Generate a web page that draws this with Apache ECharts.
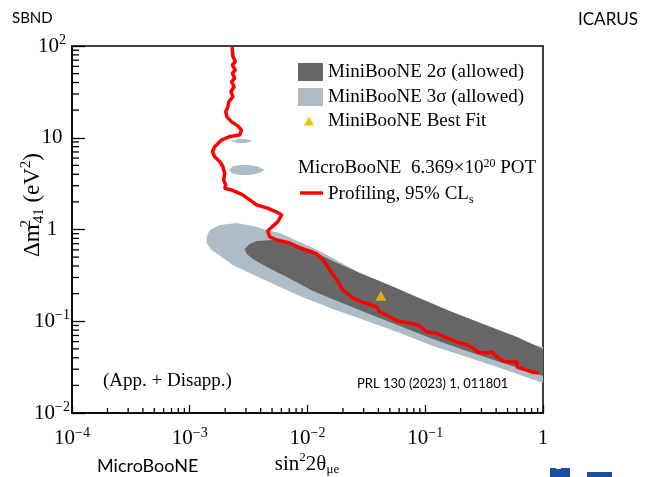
<!DOCTYPE html>
<html><head><meta charset="utf-8">
<script src="https://cdn.jsdelivr.net/npm/echarts@6/dist/echarts.min.js"></script>
<style>html,body{margin:0;padding:0;background:#fff}#c{width:652px;height:477px}</style>
</head><body><div id="c"></div>
<script>
// ---------- data (x = sin^2 2theta_mue, y = dm^2_41 in eV^2) ----------
const xRange = [1e-4, 1];
const yRange = [1e-2, 100];
const xMinorTicks = [];
for (let k = -4; k <= -1; k++) for (let m = 2; m <= 9; m++) xMinorTicks.push(m * Math.pow(10, k));
const yMinorTicks = [];
for (let k = -2; k <= 1; k++) for (let m = 2; m <= 9; m++) yMinorTicks.push(m * Math.pow(10, k));

const miniBooNE3sigma = [
  [1.39e-3,0.829],[1.48e-3,0.988],[1.80e-3,1.12],[2.51e-3,1.177],[3.43e-3,1.092],[4.51e-3,0.988],
  [5.81e-3,0.916],[8.59e-3,0.731],[1.27e-2,0.583],[1.88e-2,0.442],[3.19e-2,0.304],[6.10e-2,0.208],
  [0.116,0.139],[0.226,0.0957],[0.432,0.0691],[1.0,0.0524],
  [1.0,0.0212],[0.432,0.0309],[0.226,0.0408],[0.116,0.0537],[6.10e-2,0.0745],[3.19e-2,0.1006],
  [1.64e-2,0.136],[8.59e-3,0.188],[4.51e-3,0.275],[2.32e-3,0.410],[1.87e-3,0.502],[1.53e-3,0.598],[1.39e-3,0.712]
];
const miniBooNE3sigmaIslandA = [
  [2.23e-3,9.22],[2.55e-3,9.69],[2.99e-3,9.69],[3.43e-3,9.22],[2.99e-3,8.77],[2.55e-3,8.77]
];
const miniBooNE3sigmaIslandB = [
  [2.14e-3,4.45],[2.32e-3,4.86],[2.65e-3,5.05],[3.17e-3,5.05],[3.78e-3,4.86],[4.34e-3,4.45],
  [3.78e-3,4.08],[3.17e-3,3.93],[2.65e-3,3.93],[2.32e-3,4.08]
];
const miniBooNE2sigma = [
  [2.93e-3,0.613],[3.23e-3,0.695],[3.71e-3,0.749],[5.07e-3,0.768],[7.50e-3,0.712],[1.11e-2,0.583],
  [1.64e-2,0.453],[2.79e-2,0.336],[4.72e-2,0.255],[8.49e-2,0.184],[0.162,0.129],[0.310,0.0933],
  [0.603,0.0673],[1.0,0.0498],
  [1.0,0.0253],[0.432,0.0360],[0.226,0.0474],[0.116,0.0641],[6.10e-2,0.0887],[3.19e-2,0.123],
  [1.88e-2,0.162],[1.11e-2,0.214],[6.67e-3,0.304],[4.51e-3,0.390],[3.43e-3,0.477],[3.05e-3,0.541]
];
const miniBooNEBestFit = [[0.042, 0.19]];
const microBooNEProfiling95 = [
  [2.29e-3,97.5],[2.33e-3,76.4],[2.44e-3,67.5],[2.30e-3,62.1],[2.44e-3,54.7],[2.30e-3,50.4],
  [2.41e-3,44.5],[2.26e-3,40.8],[2.38e-3,36.0],[2.23e-3,31.8],[2.33e-3,28.0],[2.15e-3,24.7],
  [2.11e-3,21.8],[2.02e-3,19.2],[2.07e-3,16.9],[2.26e-3,15.0],[2.57e-3,13.4],[2.75e-3,12.1],
  [2.65e-3,10.7],[2.18e-3,10.3],[1.86e-3,9.45],[1.63e-3,7.99],[1.56e-3,7.05],[1.63e-3,6.22],
  [1.80e-3,5.48],[1.91e-3,4.84],[1.98e-3,4.10],[1.94e-3,3.46],[2.02e-3,3.05],[1.98e-3,2.81],
  [2.26e-3,2.70],[2.82e-3,2.38],[3.23e-3,2.10],[3.71e-3,1.85],[4.51e-3,1.72],[5.48e-3,1.55],
  [6.04e-3,1.44],[5.58e-3,1.21],[4.97e-3,1.06],[4.59e-3,0.963],[4.78e-3,0.829],[5.48e-3,0.768],
  [7.06e-3,0.712],[8.59e-3,0.629],[1.09e-2,0.569],[1.20e-2,0.541],[1.38e-2,0.453],[1.55e-2,0.362],
  [1.77e-2,0.282],[2.00e-2,0.219],[2.43e-2,0.179],[2.95e-2,0.162],[3.88e-2,0.143],[4.12e-2,0.126],
  [4.72e-2,0.117],[5.74e-2,0.1006],[7.41e-2,0.0957],[9.02e-2,0.0887],[0.103,0.0763],[0.123,0.0745],
  [0.153,0.0657],[0.197,0.0579],[0.231,0.0551],[0.281,0.0462],[0.322,0.0451],[0.369,0.0462],
  [0.407,0.0408],[0.458,0.0369],[0.525,0.0360],[0.603,0.0360],[0.603,0.0317],[0.678,0.0302],
  [0.807,0.0280],[0.927,0.0273]
];

// ---------- styling ----------
const SERIF = '"Liberation Serif", "DejaVu Serif", serif';
const SANS = 'Lato, "Open Sans", sans-serif';
const C2 = '#666666', C3 = '#adbcc6', CRED = '#ff0000', CFIT = '#f4c400';

const tickRich = {
  b: {fontFamily: SERIF, fontSize: 21, color: '#000', lineHeight: 21},
  s: {fontFamily: SERIF, fontSize: 14, color: '#000', lineHeight: 14, padding: [0, 0, 11, 0]}
};
function powLabel(v) {
  const e = Math.round(Math.log10(v));
  if (e === 0) return '{b|1}';
  if (e === 1) return '{b|10}';
  return '{b|10}{s|' + (e < 0 ? '\u2212' : '') + Math.abs(e) + '}';
}

function polygonSeries(name, pts, color, z) {
  return {
    name, type: 'custom', coordinateSystem: 'cartesian2d', silent: true, z,
    data: pts, encode: {x: 0, y: 1},
    renderItem(params, api) {
      if (params.dataIndex !== 0) return null;
      return {type: 'polygon', shape: {points: pts.map(p => api.coord(p))}, style: {fill: color}};
    }
  };
}
function minorTickSeries(vals, isX) {
  return {
    type: 'custom', coordinateSystem: 'cartesian2d', silent: true, z: 10,
    data: vals.map(v => isX ? [v, yRange[0]] : [xRange[0], v]),
    renderItem(params, api) {
      const p = api.coord([api.value(0), api.value(1)]);
      const shape = isX ? {x1: p[0], y1: p[1], x2: p[0], y2: p[1] - 5}
                        : {x1: p[0], y1: p[1], x2: p[0] + 7, y2: p[1]};
      return {type: 'line', shape, style: {stroke: '#000', lineWidth: 1.3}};
    }
  };
}

const chart = echarts.init(document.getElementById('c'), null, {renderer: 'canvas'});
const txt = (x, y, text, font, extra) => ({
  type: 'text', x, y, z: 100,
  style: Object.assign({text, font, fill: '#000', verticalAlign: 'middle', textVerticalAlign: 'middle'}, extra || {})
});
chart.setOption({
  animation: false,
  backgroundColor: '#fff',
  grid: {left: 72, right: 109, top: 46, bottom: 64, show: true, borderColor: '#000', borderWidth: 1.5, backgroundColor: 'transparent'},
  xAxis: {
    type: 'log', logBase: 10, min: xRange[0], max: xRange[1],
    axisLine: {show: true, lineStyle: {color: '#000', width: 1.5}},
    axisTick: {show: true, inside: true, length: 8, lineStyle: {color: '#000', width: 1.3}},
    axisLabel: {formatter: powLabel, rich: tickRich, margin: 15, align: 'center'},
    splitLine: {show: false}
  },
  yAxis: {
    type: 'log', logBase: 10, min: yRange[0], max: yRange[1],
    axisLine: {show: true, lineStyle: {color: '#000', width: 1.5}},
    axisTick: {show: true, inside: true, length: 13, lineStyle: {color: '#000', width: 1.3}},
    axisLabel: {formatter: powLabel, rich: tickRich, margin: 20, align: 'center'},
    splitLine: {show: false}
  },
  series: [
    polygonSeries('MiniBooNE 3σ (allowed)', miniBooNE3sigma, C3, 1),
    polygonSeries('MiniBooNE 3σ island A', miniBooNE3sigmaIslandA, C3, 1),
    polygonSeries('MiniBooNE 3σ island B', miniBooNE3sigmaIslandB, C3, 1),
    polygonSeries('MiniBooNE 2σ (allowed)', miniBooNE2sigma, C2, 2),
    {
      name: 'Profiling, 95% CLs', type: 'line', data: microBooNEProfiling95, symbol: 'none',
      lineStyle: {color: CRED, width: 3.5}, z: 3, silent: true
    },
    {
      name: 'MiniBooNE Best Fit', type: 'scatter', data: miniBooNEBestFit, symbol: 'triangle',
      symbolSize: [11, 10], itemStyle: {color: CFIT}, z: 4, silent: true
    },
    minorTickSeries(xMinorTicks, true),
    minorTickSeries(yMinorTicks, false)
  ],
  graphic: [
    // legend
    {type: 'rect', shape: {x: 298, y: 63, width: 25, height: 18}, style: {fill: C2}, z: 100},
    {type: 'rect', shape: {x: 298, y: 88, width: 25, height: 18}, style: {fill: C3}, z: 100},
    {type: 'polygon', shape: {points: [[304, 125.5], [314, 125.5], [309, 116.5]]}, style: {fill: CFIT}, z: 100},
    {type: 'line', shape: {x1: 300, y1: 193, x2: 323, y2: 193}, style: {stroke: CRED, lineWidth: 3.5}, z: 100},
    txt(328, 72, 'MiniBooNE 2σ (allowed)', '19px ' + SERIF),
    txt(328, 97, 'MiniBooNE 3σ (allowed)', '19px ' + SERIF),
    txt(328, 121, 'MiniBooNE Best Fit', '19px ' + SERIF),
    txt(298, 168, '{a|MicroBooNE  6.369×10}{s|20}{a| POT}', '', {rich: {
      a: {fontFamily: SERIF, fontSize: 19, lineHeight: 19},
      s: {fontFamily: SERIF, fontSize: 12, lineHeight: 12, padding: [0, 0, 9, 0]}}}),
    txt(328, 194, '{a|Profiling, 95% CL}{s|s}', '', {rich: {
      a: {fontFamily: SERIF, fontSize: 19, lineHeight: 19},
      s: {fontFamily: SERIF, fontSize: 12, lineHeight: 12, padding: [11, 0, 0, 0]}}}),
    // annotations
    txt(103, 381, '(App. + Disapp.)', '19px ' + SERIF),
    txt(357, 384, 'PRL 130 (2023) 1, 011801', '13px ' + SANS),
    txt(12, 18, 'SBND', '15px ' + SANS),
    txt(578, 20, 'ICARUS', '17px ' + SANS),
    txt(97, 466, 'MicroBooNE', '18px ' + SANS),
    // axis titles
    txt(307, 464, '{a|sin}{s|2}{a|2θ}{u|μe}', '', {align: 'center', textAlign: 'center', rich: {
      a: {fontFamily: SERIF, fontSize: 21, lineHeight: 21},
      s: {fontFamily: SERIF, fontSize: 13, lineHeight: 13, padding: [0, 0, 12, 0]},
      u: {fontFamily: SERIF, fontSize: 13, lineHeight: 13, padding: [12, 0, 0, 0]}}}),
    {type: 'text', x: 33, y: 205, rotation: Math.PI / 2, z: 100,
      style: {text: '{a|Δm}{t|2}{u|41}{a| (eV}{s|2}{a|)}', align: 'center', textAlign: 'center',
        verticalAlign: 'middle', textVerticalAlign: 'middle', rich: {
        a: {fontFamily: SERIF, fontSize: 23, lineHeight: 23},
        t: {fontFamily: SERIF, fontSize: 15, lineHeight: 15, padding: [0, 0, 13, 0], width: 1},
        s: {fontFamily: SERIF, fontSize: 15, lineHeight: 15, padding: [0, 0, 13, 0]},
        u: {fontFamily: SERIF, fontSize: 15, lineHeight: 15, padding: [13, 0, 0, 0]}}}},
    // logo fragments at bottom right
    {type: 'rect', shape: {x: 550, y: 468, width: 20, height: 9}, style: {fill: '#1d4f9a'}, z: 100},
    {type: 'rect', shape: {x: 556, y: 466, width: 5, height: 3}, style: {fill: '#fff'}, z: 101},
    {type: 'rect', shape: {x: 587, y: 472, width: 25, height: 5}, style: {fill: '#1d4f9a'}, z: 100}
  ]
});
</script></body></html>
